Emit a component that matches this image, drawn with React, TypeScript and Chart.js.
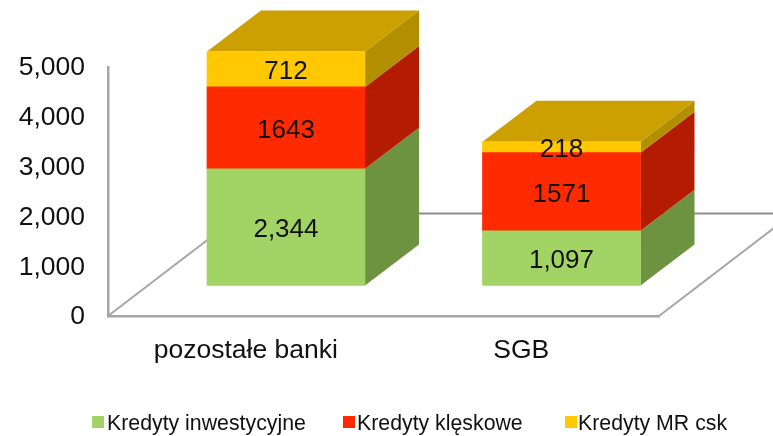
import React, { useEffect, useRef } from "react";
import { Chart, registerables } from "chart.js";

Chart.register(...registerables);

const categories = ["pozostałe banki", "SGB"];
const seriesNames = ["Kredyty inwestycyjne", "Kredyty klęskowe", "Kredyty MR csk"];
const inwestycyjne = [2344, 1097];
const kleskowe = [1643, 1571];
const mrCsk = [712, 218];
const labelInwestycyjne = ["2,344", "1,097"];
const labelKleskowe = ["1643", "1571"];
const labelMr = ["712", "218"];
const yTicks = [0, 1000, 2000, 3000, 4000, 5000];

const FONT = '"Liberation Sans", Arial, sans-serif';
const TEXT = "#111111";
const front = ["#A2D465", "#FF2A00", "#FFC800"];
const side = ["#6E9340", "#B31C00", "#B38F00"];
const topColor = "#CCA000";

// 3D projection of the chart
const BAR_DEPTH_X = 54;
const BAR_DEPTH_Y = 41;
const FLOOR_DEPTH_X = 134;
const FLOOR_DEPTH_Y = 102.5;

const legendBoxX = [92, 343, 565];
const legendTextX = [107, 357, 578];

const threeD = {
  id: "threeD",
  beforeDatasetsDraw(chart: any) {
    const { ctx, chartArea: a } = chart;
    ctx.save();
    ctx.lineCap = "round";
    // floor
    ctx.strokeStyle = "#A6A6A6";
    ctx.lineWidth = 2;
    ctx.beginPath();
    ctx.moveTo(a.left, a.bottom);
    ctx.lineTo(a.left + FLOOR_DEPTH_X, a.bottom - FLOOR_DEPTH_Y);
    ctx.moveTo(a.right, a.bottom);
    ctx.lineTo(a.right + FLOOR_DEPTH_X, a.bottom - FLOOR_DEPTH_Y);
    ctx.stroke();
    ctx.strokeStyle = "#8C8C8C";
    ctx.beginPath();
    ctx.moveTo(a.left + FLOOR_DEPTH_X, a.bottom - FLOOR_DEPTH_Y);
    ctx.lineTo(a.right + FLOOR_DEPTH_X, a.bottom - FLOOR_DEPTH_Y);
    ctx.stroke();
    // side and top faces of the bars
    chart.data.datasets.forEach((_: any, d: number) => {
      chart.getDatasetMeta(d).data.forEach((bar: any) => {
        const r = bar.x + bar.width / 2;
        ctx.fillStyle = side[d];
        ctx.beginPath();
        ctx.moveTo(r, bar.y);
        ctx.lineTo(r + BAR_DEPTH_X, bar.y - BAR_DEPTH_Y);
        ctx.lineTo(r + BAR_DEPTH_X, bar.base - BAR_DEPTH_Y);
        ctx.lineTo(r, bar.base);
        ctx.closePath();
        ctx.fill();
      });
    });
    const last = chart.data.datasets.length - 1;
    chart.getDatasetMeta(last).data.forEach((bar: any) => {
      const l = bar.x - bar.width / 2;
      const r = bar.x + bar.width / 2;
      ctx.fillStyle = topColor;
      ctx.beginPath();
      ctx.moveTo(l, bar.y);
      ctx.lineTo(l + BAR_DEPTH_X, bar.y - BAR_DEPTH_Y);
      ctx.lineTo(r + BAR_DEPTH_X, bar.y - BAR_DEPTH_Y);
      ctx.lineTo(r, bar.y);
      ctx.closePath();
      ctx.fill();
    });
    ctx.restore();
  },
  afterDatasetsDraw(chart: any) {
    const { ctx } = chart;
    ctx.save();
    // value labels
    ctx.font = `26px ${FONT}`;
    ctx.fillStyle = TEXT;
    ctx.textAlign = "center";
    ctx.textBaseline = "middle";
    chart.data.datasets.forEach((ds: any, d: number) => {
      chart.getDatasetMeta(d).data.forEach((bar: any, i: number) => {
        ctx.fillText(ds.valueLabels[i], bar.x, (bar.y + bar.base) / 2 + 3);
      });
    });
    // legend
    ctx.font = `21.3px ${FONT}`;
    ctx.textAlign = "left";
    chart.data.datasets.forEach((ds: any, d: number) => {
      ctx.fillStyle = front[d];
      ctx.fillRect(legendBoxX[d], 416, 12, 12);
      ctx.fillStyle = TEXT;
      ctx.fillText(ds.label, legendTextX[d], 424);
    });
    ctx.restore();
  },
};

export default function App() {
  const ref = useRef<HTMLCanvasElement>(null);
  useEffect(() => {
    const toPoints = (vals: number[]) => vals.map((y, x) => ({ x, y }));
    const common = { xAxisID: "xBars", yAxisID: "yBars", barThickness: 158, clip: false as const, borderWidth: 0 };
    const chart = new Chart(ref.current!, {
      type: "bar",
      data: {
        labels: categories,
        datasets: [
          { ...common, label: seriesNames[0], data: toPoints(inwestycyjne), backgroundColor: front[0], valueLabels: labelInwestycyjne },
          { ...common, label: seriesNames[1], data: toPoints(kleskowe), backgroundColor: front[1], valueLabels: labelKleskowe },
          { ...common, label: seriesNames[2], data: toPoints(mrCsk), backgroundColor: front[2], valueLabels: labelMr },
        ] as any,
      },
      plugins: [threeD],
      options: {
        responsive: false,
        animation: false,
        layout: { padding: { left: 0, top: 67, right: 114, bottom: 0 } },
        plugins: { legend: { display: false }, tooltip: { enabled: false } },
        scales: {
          x: {
            type: "category",
            position: "bottom",
            offset: true,
            grid: { display: false, drawTicks: false },
            border: { color: "#A6A6A6", width: 2.5 },
            ticks: { font: { family: FONT, size: 26.5 }, color: TEXT, padding: 19, maxRotation: 0 },
            afterFit: (s: any) => { s.height = 120; },
          },
          y: {
            type: "linear",
            position: "left",
            min: yTicks[0],
            max: yTicks[yTicks.length - 1],
            grid: { display: false, drawTicks: false },
            border: { color: "#A6A6A6", width: 2.5 },
            ticks: {
              stepSize: 1000,
              font: { family: FONT, size: 26.5 },
              color: TEXT,
              padding: 23,
              labelOffset: 1,
              callback: (v: any) => Number(v).toLocaleString("en-US"),
            },
            afterFit: (s: any) => { s.width = 108; },
          },
          // hidden axes: the bars stand further back on the 3D floor
          xBars: { type: "linear", display: false, stacked: true, offset: false, min: -0.646, max: 1.354 },
          yBars: { type: "linear", display: false, stacked: true, min: -612.5, max: 4387.5 },
        },
      } as any,
    });
    return () => chart.destroy();
  }, []);
  return (
    <div style={{ position: "absolute", left: 0, top: 0, width: 773, height: 436, overflow: "hidden", background: "#fff" }}>
      <canvas ref={ref} width={773} height={436} style={{ display: "block" }} />
    </div>
  );
}
